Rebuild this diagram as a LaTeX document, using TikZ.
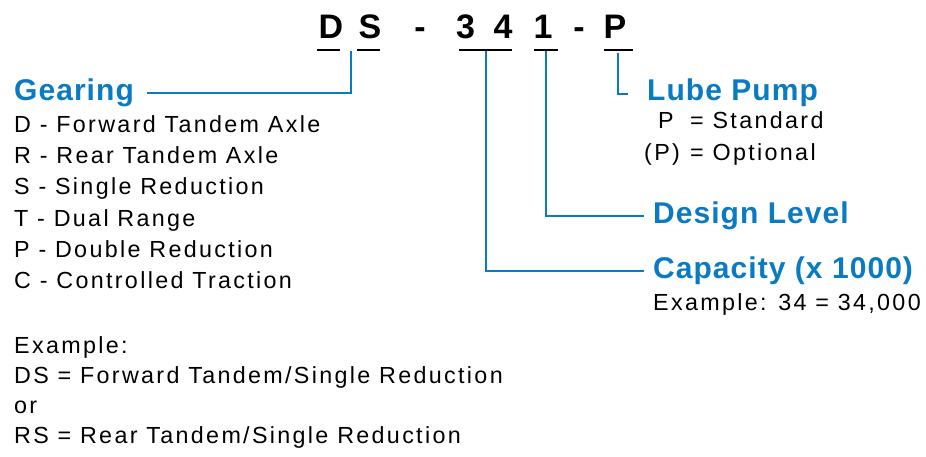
\documentclass[tikz,border=0pt]{standalone}
\usepackage{fontspec}
\setmainfont{Liberation Sans}[LetterSpace=10]
\newfontfamily\headfont{Liberation Sans}[LetterSpace=3.5]
\newfontfamily\codefont{Liberation Sans}
\usetikzlibrary{positioning}
\definecolor{leadblue}{HTML}{0A7BC2}
\tikzset{code/.style={font=\codefont\fontsize{34}{34}\selectfont\bfseries,inner sep=0pt,anchor=base},
  head/.style={font=\headfont\fontsize{30}{30}\selectfont\bfseries,text=leadblue,inner sep=0pt,anchor=base west},
  item/.style={font=\fontsize{23.3}{31}\selectfont,inner sep=0pt,anchor=base west},
  lead/.style={draw=leadblue,line width=2pt},
  bar/.style={draw=black,line width=2pt}}

\begin{document}
\begin{tikzpicture}[x=1pt,y=-1pt]
\useasboundingbox (0,0) rectangle (926,456);
% part number
\node[code] (cD) at (331,38) {D};
\node[code] (cS) at (370,38) {S};
\node[code] (cH1) at (420,38) {-};
\node[code] (c3) at (465.5,38) {3};
\node[code] (c4) at (503,38) {4};
\node[code] (c1) at (543,38) {1};
\node[code] (cH2) at (579,38) {-};
\node[code] (cP) at (615,38) {P};
\draw[bar] (317,50)--(340,50) (357,50)--(380,50) (459,50)--(512,50)
  (534,50)--(558,50) (604,50)--(633,50);
% headings
\node[head] (gear) at (14,100) {Gearing};
\node[head] (lube) at (647,100.7) {Lube Pump};
\node[head] (design) at (653,223) {Design Level};
\node[head] (cap) at (653,278) {Capacity (x 1000)};
% gearing list
\node[item] (g1) at (14,132) {D - Forward Tandem Axle};
\node[item] (g2) at (14,163) {R - Rear Tandem Axle};
\node[item] (g3) at (14,194) {S - Single Reduction};
\node[item] (g4) at (14,226) {T - Dual Range};
\node[item] (g5) at (14,257) {P - Double Reduction};
\node[item] (g6) at (14,288) {C - Controlled Traction};
\node[item] (ex1) at (14,353) {Example:};
\node[item] (ex2) at (14,383) {DS = Forward Tandem/Single Reduction};
\node[item] (ex3) at (14,413) {or};
\node[item] (ex4) at (14,443) {RS = Rear Tandem/Single Reduction};
% lube pump and capacity notes
\node[item] (stdK) at (658,128) {P};
\node[item] (stdV) at (690,128) {= Standard};
\node[item] (optK) at (644,160) {(P)};
\node[item] (optV) at (690,160) {= Optional};
\node[item] (capex) at (653,310) {Example: 34 = 34,000};
% leaders
\coordinate (tDS) at (351,51);
\coordinate (t34) at (486,51);
\coordinate (t1) at (546,51);
\coordinate (tP) at (618,53);
\draw[lead] (tDS) |- ([xshift=13pt,yshift=7pt]gear.base east);
\draw[lead] (t34) |- ([xshift=-9pt,yshift=7pt]cap.base west);
\draw[lead] (t1) |- ([xshift=-9pt,yshift=7pt]design.base west);
\draw[lead] (tP) |- ([xshift=-19pt,yshift=7pt]lube.base west);
\end{tikzpicture}
\end{document}
